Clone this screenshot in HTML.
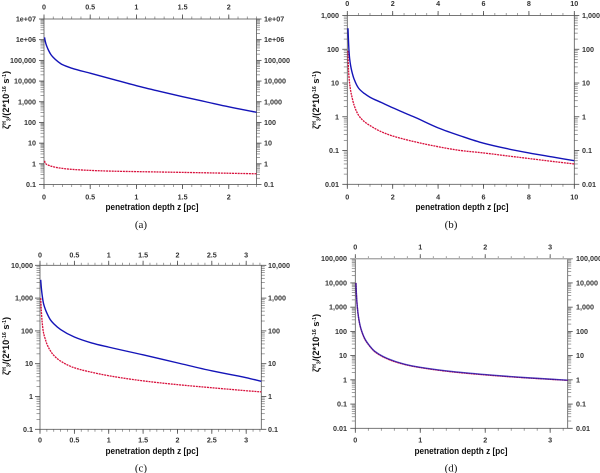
<!DOCTYPE html>
<html>
<head>
<meta charset="utf-8">
<title>Ionisation rate versus penetration depth</title>
<style>
html,body{margin:0;padding:0;background:#fff;}
svg{display:block;width:600px;height:473px;font-family:"Liberation Sans",sans-serif;filter:blur(0.3px);}
.tl{font-size:7.2px;font-weight:bold;fill:#333;}
.at{font-size:9px;font-weight:bold;fill:#111;}
.yt{font-size:9.2px;font-weight:bold;fill:#111;}
.cap{font-family:"Liberation Serif",serif;font-size:11px;fill:#111;}
</style>
</head>
<body>
<svg id="fig" xmlns="http://www.w3.org/2000/svg" width="600" height="473" viewBox="0 0 600 473"></svg>
<script>
// Panel (a)
const aXTicks = [0, 0.5, 1, 1.5, 2];
const aXLabels = ["0", "0.5", "1", "1.5", "2"];
const aYTicks = [1e7, 1e6, 1e5, 1e4, 1e3, 100, 10, 1, 0.1];
const aYLabels = ["1e+07", "1e+06", "100,000", "10,000", "1,000", "100", "10", "1", "0.1"];
const aBlueZ = [0.006, 0.01, 0.02, 0.03, 0.05, 0.075, 0.1, 0.15, 0.2, 0.3, 0.5, 0.75, 1, 1.25, 1.5, 1.75, 2, 2.3];
const aBlueV = [1300000, 1000000, 650000, 480000, 300000, 190000, 140000, 88000, 62000, 42000, 24000, 12000, 6000, 3200, 1750, 1000, 570, 310];
const aRedZ = [0.006, 0.01, 0.02, 0.05, 0.1, 0.2, 0.3, 0.5, 0.75, 1, 1.5, 2, 2.3];
const aRedV = [1.4, 1.2, 1.0, 0.85, 0.72, 0.6, 0.54, 0.48, 0.44, 0.42, 0.385, 0.35, 0.33];

// Panel (b)
const bXTicks = [0, 2, 4, 6, 8, 10];
const bXLabels = ["0", "2", "4", "6", "8", "10"];
const bYTicks = [1000, 100, 10, 1, 0.1, 0.01];
const bYLabels = ["1,000", "100", "10", "1", "0.1", "0.01"];
const bBlueZ = [0.03, 0.05, 0.075, 0.1, 0.15, 0.2, 0.3, 0.5, 0.75, 1, 1.5, 2, 2.5, 3, 4, 5, 6, 7, 8, 9, 10];
const bBlueV = [420, 190, 90, 55, 32, 22, 13, 7, 4.9, 3.8, 2.65, 1.85, 1.32, 0.95, 0.47, 0.27, 0.165, 0.115, 0.085, 0.065, 0.05];
const bRedZ = [0.03, 0.05, 0.075, 0.1, 0.15, 0.2, 0.3, 0.5, 0.75, 1, 1.5, 2, 3, 4, 5, 6, 7, 8, 9, 10];
const bRedV = [90, 28, 15, 10, 5.8, 4, 2.2, 1.1, 0.72, 0.55, 0.36, 0.27, 0.18, 0.13, 0.1, 0.085, 0.07, 0.058, 0.048, 0.04];

// Panel (c)
const cXTicks = [0, 0.5, 1, 1.5, 2, 2.5, 3];
const cXLabels = ["0", "0.5", "1", "1.5", "2", "2.5", "3"];
const cYTicks = [10000, 1000, 100, 10, 1, 0.1];
const cYLabels = ["10,000", "1,000", "100", "10", "1", "0.1"];
const cBlueZ = [0.01, 0.02, 0.03, 0.05, 0.075, 0.1, 0.15, 0.2, 0.3, 0.5, 0.75, 1, 1.5, 2, 2.5, 3, 3.22];
const cBlueV = [3600, 2000, 1300, 700, 470, 350, 220, 165, 110, 65, 43, 32, 18.6, 10.6, 6.05, 3.75, 2.9];
const cRedZ = [0.01, 0.02, 0.03, 0.05, 0.075, 0.1, 0.15, 0.2, 0.3, 0.5, 0.75, 1, 1.5, 2, 2.5, 3, 3.22];
const cRedV = [1000, 400, 200, 90, 58, 40, 25, 18, 12, 7.5, 5.5, 4.3, 3, 2.3, 1.85, 1.5, 1.38];

// Panel (d)
const dXTicks = [0, 1, 2, 3];
const dXLabels = ["0", "1", "2", "3"];
const dYTicks = [100000, 10000, 1000, 100, 10, 1, 0.1, 0.01];
const dYLabels = ["100,000", "10,000", "1,000", "100", "10", "1", "0.1", "0.01"];
const dBlueZ = [0.01, 0.02, 0.03, 0.05, 0.075, 0.1, 0.15, 0.2, 0.3, 0.5, 0.75, 1, 1.5, 2, 2.5, 3, 3.27];
const dBlueV = [10000, 2500, 1100, 380, 170, 100, 48, 30, 15, 7.5, 4.5, 3.3, 2.2, 1.65, 1.3, 1.07, 0.97];
const dRedZ = [0.01, 0.02, 0.03, 0.05, 0.075, 0.1, 0.15, 0.2, 0.3, 0.5, 0.75, 1, 1.5, 2, 2.5, 3, 3.27];
const dRedV = [10000, 2500, 1100, 370, 165, 97, 46, 29, 14.5, 7.2, 4.35, 3.2, 2.12, 1.6, 1.27, 1.05, 0.95];

const NS = "http://www.w3.org/2000/svg";
const fig = document.getElementById("fig");

function mk(parent, tag, attrs, text) {
  const el = document.createElementNS(NS, tag);
  for (const k in attrs) el.setAttribute(k, attrs[k]);
  if (text !== undefined) el.textContent = text;
  parent.appendChild(el);
  return el;
}

// Monotone cubic path through the mapped data points, so the curves stay smooth.
function smoothPath(xs, ys) {
  const n = xs.length;
  const d = [];
  for (let i = 0; i < n - 1; i++) d.push((ys[i + 1] - ys[i]) / (xs[i + 1] - xs[i]));
  const m = [d[0]];
  for (let i = 1; i < n - 1; i++) {
    if (d[i - 1] * d[i] <= 0) {
      m.push(0);
    } else {
      const h0 = xs[i] - xs[i - 1];
      const h1 = xs[i + 1] - xs[i];
      const w0 = 2 * h1 + h0;
      const w1 = h1 + 2 * h0;
      m.push((w0 + w1) / (w0 / d[i - 1] + w1 / d[i]));
    }
  }
  m.push(d[n - 2]);
  let out = "M" + xs[0].toFixed(2) + " " + ys[0].toFixed(2);
  for (let i = 0; i < n - 1; i++) {
    const h = (xs[i + 1] - xs[i]) / 3;
    out += " C" + (xs[i] + h).toFixed(2) + " " + (ys[i] + m[i] * h).toFixed(2) +
      " " + (xs[i + 1] - h).toFixed(2) + " " + (ys[i + 1] - m[i + 1] * h).toFixed(2) +
      " " + xs[i + 1].toFixed(2) + " " + ys[i + 1].toFixed(2);
  }
  return out;
}

function drawPanel(p) {
  const g = mk(fig, "g", {});
  
  

  const sx = v => p.x0 + (v / p.xMax) * (p.x1 - p.x0);
  const logTop = Math.log10(p.yTicks[0]);
  const logBot = Math.log10(p.yTicks[p.yTicks.length - 1]);
  const sy = v => p.y0 + ((logTop - Math.log10(v)) / (logTop - logBot)) * (p.y1 - p.y0);

  // x minor ticks, top and bottom
  const nMinor = Math.round(p.xMax / p.xMinor);
  for (let i = 0; i <= nMinor; i++) {
    const x = sx(i * p.xMinor);
    const bot = mk(g, "line", {x1: x, x2: x, y1: p.y1, y2: p.y1 + 2.5, stroke: "#777", "stroke-width": 0.7});
    
    
    const top = mk(g, "line", {x1: x, x2: x, y1: p.y0, y2: p.y0 - 2.5, stroke: "#777", "stroke-width": 0.7});
    
    
  }

  // y minor ticks, both sides
  for (let i = 0; i < p.yTicks.length - 1; i++) {
    for (let m = 2; m <= 9; m++) {
      const y = sy(p.yTicks[i + 1] * m);
      const left = mk(g, "line", {x1: p.x0 - 3.5, x2: p.x0, y1: y, y2: y, stroke: "#888", "stroke-width": 0.8});
      
      
      const right = mk(g, "line", {x1: p.x1, x2: p.x1 + 3.5, y1: y, y2: y, stroke: "#888", "stroke-width": 0.8});
      
      
    }
  }

  // x major ticks and labels
  p.xTicks.forEach((v, i) => {
    const x = sx(v);
    const bot = mk(g, "line", {x1: x, x2: x, y1: p.y1, y2: p.y1 + 4.5, stroke: "#444", "stroke-width": 0.8});
    
    
    const top = mk(g, "line", {x1: x, x2: x, y1: p.y0, y2: p.y0 - 4.5, stroke: "#444", "stroke-width": 0.8});
    
    
    const lb = mk(g, "text", {x: x, y: p.botLabelY, "text-anchor": "middle", "class": "tl"}, p.xLabels[i]);
    
    
    const lt = mk(g, "text", {x: x, y: p.topLabelY, "text-anchor": "middle", "class": "tl"}, p.xLabels[i]);
    
    
  });

  // y major ticks and labels
  p.yTicks.forEach((v, i) => {
    const y = sy(v);
    const left = mk(g, "line", {x1: p.x0 - 5, x2: p.x0, y1: y, y2: y, stroke: "#444", "stroke-width": 0.8});
    
    
    const right = mk(g, "line", {x1: p.x1, x2: p.x1 + 5, y1: y, y2: y, stroke: "#444", "stroke-width": 0.8});
    
    
    const ll = mk(g, "text", {x: p.leftLabelX, y: y + 2.5, "text-anchor": "end", "class": "tl"}, p.yLabels[i]);
    
    
    const lr = mk(g, "text", {x: p.rightLabelX, y: y + 2.5, "text-anchor": "start", "class": "tl"}, p.yLabels[i]);
    
    
  });

  // frame
  const frame = mk(g, "rect", {x: p.x0, y: p.y0, width: p.x1 - p.x0, height: p.y1 - p.y0, fill: "none", stroke: "#555", "stroke-width": 0.8});
  
  

  if (p.topSpineWide) {
    const spine = mk(g, "line", {x1: p.x0 - 5, x2: p.x1 + 5, y1: p.y0, y2: p.y0, stroke: "#aaa", "stroke-width": 1.4});
    
    
  }

  // series
  const red = mk(g, "path", {d: smoothPath(p.redZ.map(sx), p.redV.map(sy)), fill: "none", stroke: "#d8103c", "stroke-width": 1.3, "stroke-dasharray": p.redDash, "stroke-linejoin": "round"});
  
  
  const blue = mk(g, "path", {d: smoothPath(p.blueZ.map(sx), p.blueV.map(sy)), fill: "none", stroke: "#1414b8", "stroke-width": 1.4, "stroke-opacity": p.blueOpacity, "stroke-linejoin": "round"});
  
  

  // x axis title
  const xt = mk(g, "text", {x: p.xTitleX, y: p.xTitleY, "text-anchor": "middle", "class": "at", textLength: 93, lengthAdjust: "spacingAndGlyphs"}, "penetration depth z [pc]");
  
  

  // y axis title
  const yt = mk(g, "text", {transform: "translate(" + p.yTitleX + "," + p.yTitleY + ") rotate(-90)", "text-anchor": "middle", "class": "yt"});
  
  
  mk(yt, "tspan", {}, "\u03B6");
  mk(yt, "tspan", {dy: -2.8, "font-size": 5.2}, "H");
  mk(yt, "tspan", {dy: 4.5, "font-size": 5.2}, "3");
  mk(yt, "tspan", {dy: -1.7}, "/(2*10");
  mk(yt, "tspan", {dy: -2.8, "font-size": 5.2}, "-16");
  mk(yt, "tspan", {dy: 2.8}, " s");
  mk(yt, "tspan", {dy: -2.8, "font-size": 5.2}, "-1");
  mk(yt, "tspan", {dy: 2.8}, ")");

  // caption
  const cap = mk(g, "text", {x: p.capX, y: p.capY, "text-anchor": "middle", "class": "cap"}, "(" + p.id + ")");
  
  
}

drawPanel({id: "a", x0: 44, x1: 256.5, y0: 19, y1: 184.5, xMax: 2.3, xMinor: 0.1,
  xTicks: aXTicks, xLabels: aXLabels, yTicks: aYTicks, yLabels: aYLabels,
  blueZ: aBlueZ, blueV: aBlueV, redZ: aRedZ, redV: aRedV, redDash: "2 0.8", blueOpacity: 1,
  topLabelY: 9.5, botLabelY: 199.5, leftLabelX: 36, rightLabelX: 264,
  xTitleX: 152, xTitleY: 210, yTitleX: 9, yTitleY: 100, capX: 141, capY: 228});

drawPanel({id: "b", x0: 347.3, x1: 574.3, y0: 15.5, y1: 184.3, xMax: 10, xMinor: 0.5,
  xTicks: bXTicks, xLabels: bXLabels, yTicks: bYTicks, yLabels: bYLabels,
  blueZ: bBlueZ, blueV: bBlueV, redZ: bRedZ, redV: bRedV, redDash: "2 0.8", blueOpacity: 1,
  topLabelY: 6, botLabelY: 199.5, leftLabelX: 339, rightLabelX: 582,
  xTitleX: 462, xTitleY: 210, yTitleX: 319, yTitleY: 100, capX: 451, capY: 228});

drawPanel({id: "c", x0: 40, x1: 261.3, y0: 265.3, y1: 429.3, xMax: 3.22, xMinor: 0.1,
  xTicks: cXTicks, xLabels: cXLabels, yTicks: cYTicks, yLabels: cYLabels,
  blueZ: cBlueZ, blueV: cBlueV, redZ: cRedZ, redV: cRedV, redDash: "2 0.8", blueOpacity: 1,
  topLabelY: 257.5, botLabelY: 442.5, leftLabelX: 33, rightLabelX: 268,
  xTitleX: 152, xTitleY: 454, yTitleX: 9, yTitleY: 346, capX: 141, capY: 471.5});

drawPanel({id: "d", x0: 355.3, x1: 567.7, y0: 258.7, y1: 428.3, xMax: 3.27, xMinor: 0.2,
  xTicks: dXTicks, xLabels: dXLabels, yTicks: dYTicks, yLabels: dYLabels,
  blueZ: dBlueZ, blueV: dBlueV, redZ: dRedZ, redV: dRedV, redDash: "2 0.4", blueOpacity: 0.75, topSpineWide: true,
  topLabelY: 249.5, botLabelY: 442.5, leftLabelX: 347, rightLabelX: 576,
  xTitleX: 461, xTitleY: 454, yTitleX: 319, yTitleY: 343, capX: 451, capY: 471.5});
</script>
</body>
</html>
